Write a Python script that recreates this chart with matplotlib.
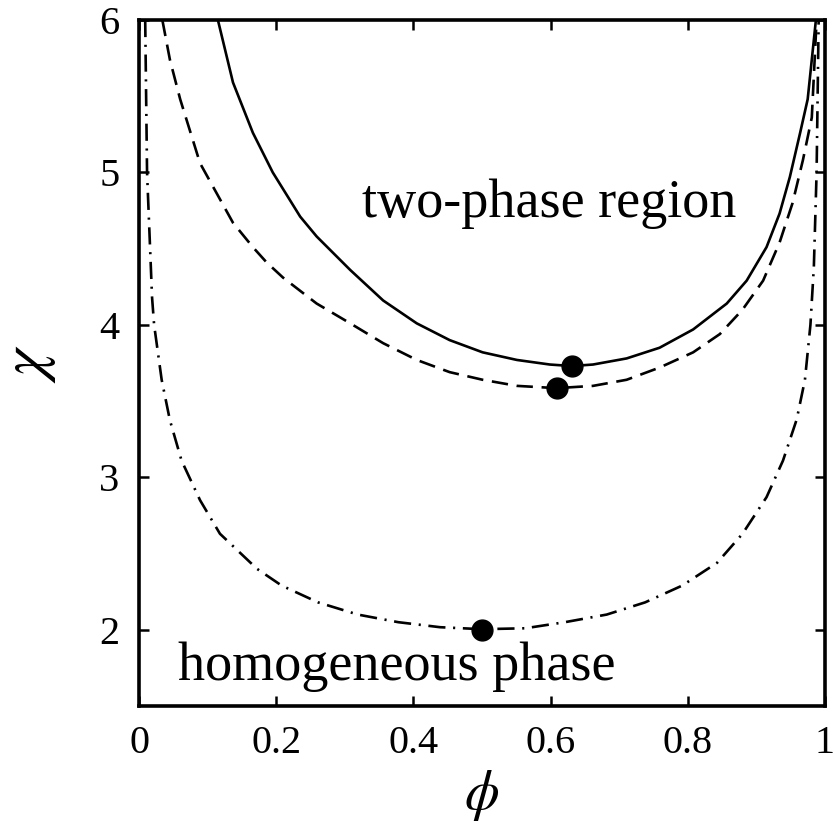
import numpy as np
import matplotlib
matplotlib.use('Agg')
import matplotlib.pyplot as plt

plt.rcParams['font.family'] = ['Liberation Serif', 'DejaVu Serif']
plt.rcParams['mathtext.fontset'] = 'stix'

############################################################
# data (phi, chi)
############################################################
# solid curve
solid_phi = [0.115, 0.137, 0.166, 0.195, 0.235, 0.259, 0.308, 0.356, 0.405, 0.453,
             0.501, 0.551, 0.599, 0.631, 0.662, 0.711, 0.759, 0.808, 0.857, 0.886,
             0.915, 0.934, 0.949, 0.964, 0.975, 0.987]
solid_chi = [6.00, 5.59, 5.26, 5.00, 4.71, 4.58, 4.36, 4.16, 4.01, 3.90,
             3.82, 3.77, 3.74, 3.73, 3.74, 3.78, 3.85, 3.97, 4.14, 4.29,
             4.51, 4.73, 4.97, 5.26, 5.48, 6.00]

# dashed curve
dashed_phi = [0.034, 0.045, 0.060, 0.089, 0.137, 0.166, 0.186, 0.210, 0.259, 0.308,
              0.356, 0.405, 0.453, 0.501, 0.551, 0.609, 0.662, 0.711, 0.759, 0.808,
              0.847, 0.880, 0.910, 0.934, 0.953, 0.968, 0.981, 0.988]
dashed_chi = [6.00, 5.74, 5.48, 5.06, 4.67, 4.51, 4.41, 4.31, 4.14, 4.01,
              3.88, 3.77, 3.69, 3.64, 3.60, 3.585, 3.60, 3.64, 3.72, 3.82,
              3.94, 4.10, 4.29, 4.54, 4.80, 5.08, 5.36, 6.00]

# dash-dot curve
dashdot_phi = [0.009, 0.0117, 0.019, 0.022, 0.033, 0.045, 0.062, 0.089, 0.118, 0.172,
               0.208, 0.261, 0.319, 0.378, 0.439, 0.500, 0.563, 0.621, 0.682, 0.738,
               0.792, 0.843, 0.880, 0.915, 0.939, 0.959, 0.971, 0.979, 0.984, 0.988,
               0.991]
dashdot_chi = [6.00, 5.00, 4.18, 4.00, 3.64, 3.375, 3.11, 2.85, 2.63, 2.40,
               2.29, 2.18, 2.10, 2.05, 2.017, 2.004, 2.01, 2.05, 2.10, 2.18,
               2.29, 2.44, 2.63, 2.87, 3.11, 3.38, 3.64, 4.00, 4.38, 5.00,
               6.00]

# critical points
crit_phi = [0.631, 0.609, 0.500]
crit_chi = [3.73, 3.585, 2.00]

xticks = [0, 0.2, 0.4, 0.6, 0.8, 1]
xticklabels = ['0', '0.2', '0.4', '0.6', '0.8', '1']
yticks = [2, 3, 4, 5, 6]

############################################################
# figure
############################################################
fig = plt.figure(figsize=(8.34, 8.25), dpi=100)
ax = fig.add_axes([0.1667, 0.1442, 0.8223, 0.8316])

lw = 1.9
ax.plot(solid_phi, solid_chi, color='k', linewidth=lw)
ax.plot(dashed_phi, dashed_chi, color='k', linewidth=lw, dashes=[6.2, 3.3])
ax.plot(dashdot_phi, dashdot_chi, color='k', linewidth=lw, dashes=[6.5, 2.9, 0.8, 2.9])
ax.plot(crit_phi, crit_chi, 'o', color='k', markersize=15, zorder=5)

ax.text(0.325, 4.707, 'two-phase region', fontsize=39, ha='left', va='baseline')
ax.text(0.057, 1.669, 'homogeneous phase', fontsize=39, ha='left', va='baseline')

ax.set_xlim(0, 1)
ax.set_ylim(1.5, 6)
ax.set_xticks(xticks)
ax.set_xticklabels(xticklabels)
ax.set_yticks(yticks)
ax.tick_params(direction='in', top=True, right=True, length=7, width=1.8,
               labelsize=29, pad=14)
for s in ax.spines.values():
    s.set_linewidth(2.6)

ax.set_xlabel(r'$\phi$', fontsize=40, labelpad=4)
ax.set_ylabel(r'$\chi$', fontsize=44, labelpad=30)

plt.savefig('out.png', dpi=100)
